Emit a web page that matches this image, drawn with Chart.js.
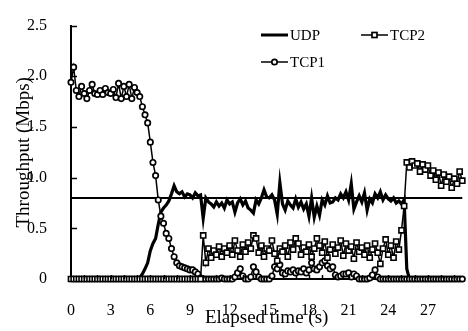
<!DOCTYPE html>
<html>
<head>
<meta charset="utf-8">
<script src="https://cdn.jsdelivr.net/npm/chart.js@4"></script>
<style>
    html, body { margin: 0; padding: 0; background: #fff; overflow: hidden; }
</style>
</head>
<body>
<canvas id="chart" width="468" height="331"></canvas>
<script>
// sample times (s)
const time = [
    0, 0.2, 0.4, 0.6, 0.8, 1, 1.2, 1.4, 1.6, 1.8,
    2, 2.2, 2.4, 2.6, 2.8, 3, 3.2, 3.4, 3.6, 3.8,
    4, 4.2, 4.4, 4.6, 4.8, 5, 5.2, 5.4, 5.6, 5.8,
    6, 6.2, 6.4, 6.6, 6.8, 7, 7.2, 7.4, 7.6, 7.8,
    8, 8.2, 8.4, 8.6, 8.8, 9, 9.2, 9.4, 9.6, 9.8,
    10, 10.2, 10.4, 10.6, 10.8, 11, 11.2, 11.4, 11.6, 11.8,
    12, 12.2, 12.4, 12.6, 12.8, 13, 13.2, 13.4, 13.6, 13.8,
    14, 14.2, 14.4, 14.6, 14.8, 15, 15.2, 15.4, 15.6, 15.8,
    16, 16.2, 16.4, 16.6, 16.8, 17, 17.2, 17.4, 17.6, 17.8,
    18, 18.2, 18.4, 18.6, 18.8, 19, 19.2, 19.4, 19.6, 19.8,
    20, 20.2, 20.4, 20.6, 20.8, 21, 21.2, 21.4, 21.6, 21.8,
    22, 22.2, 22.4, 22.6, 22.8, 23, 23.2, 23.4, 23.6, 23.8,
    24, 24.2, 24.4, 24.6, 24.8, 25, 25.2, 25.4, 25.6, 25.8,
    26, 26.2, 26.4, 26.6, 26.8, 27, 27.2, 27.4, 27.6, 27.8,
    28, 28.2, 28.4, 28.6, 28.8, 29, 29.2, 29.4, 29.6, 29.8
];

// throughput (Mbps)
const udp = [
    0, 0, 0, 0, 0, 0, 0, 0, 0, 0,
    0, 0, 0, 0, 0, 0, 0, 0, 0, 0,
    0, 0, 0, 0, 0, 0, 0.01, 0.05, 0.10, 0.16,
    0.28, 0.35, 0.40, 0.54, 0.66, 0.70, 0.73, 0.77, 0.84, 0.92,
    0.86, 0.84, 0.86, 0.81, 0.84, 0.83, 0.80, 0.85, 0.82, 0.83,
    0.60, 0.80, 0.76, 0.74, 0.71, 0.76, 0.72, 0.75, 0.70, 0.78,
    0.74, 0.76, 0.66, 0.75, 0.79, 0.73, 0.77, 0.70, 0.68, 0.65,
    0.78, 0.74, 0.80, 0.88, 0.81, 0.80, 0.83, 0.78, 0.64, 0.95,
    0.74, 0.68, 0.77, 0.73, 0.70, 0.79, 0.71, 0.76, 0.69, 0.74,
    0.62, 0.80, 0.61, 0.72, 0.63, 0.78, 0.73, 0.82, 0.75, 0.76,
    0.80, 0.78, 0.84, 0.80, 0.86, 0.78, 0.94, 0.69, 0.76, 0.82,
    0.76, 0.85, 0.68, 0.79, 0.75, 0.84, 0.80, 0.86, 0.78, 0.83,
    0.79, 0.77, 0.80, 0.75, 0.77, 0.74, 0.78, 0.10, 0, 0,
    0, 0, 0, 0, 0, 0, 0, 0, 0, 0,
    0, 0, 0, 0, 0, 0, 0, 0, 0, 0
];
const tcp1 = [
    1.94, 2.09, 1.86, 1.80, 1.90, 1.83, 1.78, 1.86, 1.92, 1.83,
    1.82, 1.86, 1.82, 1.88, 1.84, 1.83, 1.87, 1.79, 1.93, 1.78,
    1.90, 1.80, 1.92, 1.78, 1.89, 1.84, 1.80, 1.70, 1.62, 1.54,
    1.35, 1.15, 1.02, 0.78, 0.62, 0.55, 0.45, 0.40, 0.30, 0.22,
    0.16, 0.13, 0.12, 0.11, 0.10, 0.09, 0.09, 0.07, 0.05, 0.01,
    0, 0, 0, 0, 0, 0, 0, 0.01, 0, 0,
    0, 0, 0.02, 0.06, 0.10, 0.03, 0, 0, 0.02, 0.12,
    0.07, 0.02, 0, 0, 0, 0, 0.03, 0.12, 0.10, 0.14,
    0.06, 0.05, 0.08, 0.07, 0.09, 0.06, 0.08, 0.07, 0.10, 0.06,
    0.09, 0.16, 0.10, 0.09, 0.12, 0.16, 0.18, 0.13, 0.10, 0.12,
    0.04, 0.02, 0.03, 0.05, 0.05, 0.06, 0.02, 0.05, 0.03, 0,
    0, 0, 0, 0.01, 0.04, 0.09, 0.02, 0, 0, 0,
    0, 0, 0, 0, 0, 0, 0, 0, 0, 0,
    0, 0, 0, 0, 0, 0, 0, 0, 0, 0,
    0, 0, 0, 0, 0, 0, 0, 0, 0, 0
];
const tcp2 = [
    0, 0, 0, 0, 0, 0, 0, 0, 0, 0,
    0, 0, 0, 0, 0, 0, 0, 0, 0, 0,
    0, 0, 0, 0, 0, 0, 0, 0, 0, 0,
    0, 0, 0, 0, 0, 0, 0, 0, 0, 0,
    0, 0, 0, 0, 0, 0, 0, 0, 0, 0,
    0.43, 0.16, 0.30, 0.21, 0.28, 0.24, 0.32, 0.22, 0.30, 0.26,
    0.33, 0.24, 0.38, 0.28, 0.22, 0.34, 0.27, 0.36, 0.30, 0.43,
    0.40, 0.26, 0.33, 0.22, 0.30, 0.28, 0.38, 0.25, 0.18, 0.30,
    0.27, 0.33, 0.22, 0.36, 0.29, 0.40, 0.35, 0.24, 0.31, 0.27,
    0.34, 0.22, 0.30, 0.40, 0.33, 0.26, 0.37, 0.21, 0.29, 0.34,
    0.25, 0.31, 0.38, 0.23, 0.35, 0.28, 0.32, 0.20, 0.36, 0.27,
    0.31, 0.24, 0.33, 0.21, 0.29, 0.35, 0.26, 0.15, 0.30, 0.39,
    0.24, 0.33, 0.21, 0.37, 0.29, 0.48, 0.72, 1.15, 1.10, 1.16,
    1.12, 1.14, 1.06, 1.13, 1.08, 1.12, 1.02, 1.07, 0.98, 1.05,
    0.92, 1.03, 0.96, 1.01, 0.90, 0.99, 0.94, 1.06, 0.97, 1.00
];

// UDP sending rate line
const udpRate = 0.8;

const xTicks = [0, 3, 6, 9, 12, 15, 18, 21, 24, 27];
const yTicks = [0, 0.5, 1, 1.5, 2, 2.5];

const FONT = "'Liberation Serif', 'Times New Roman', serif";

// small inward tick marks on both axes
const innerTicks = {
    id: 'innerTicks',
    afterDatasetsDraw(chart) {
        const { ctx, chartArea, scales } = chart;
        ctx.save();
        ctx.strokeStyle = '#000';
        ctx.lineWidth = 1.5;
        ctx.beginPath();
        yTicks.slice(1).forEach(v => {
            const y = Math.round(scales.y.getPixelForValue(v)) + 0.5;
            ctx.moveTo(chartArea.left, y);
            ctx.lineTo(chartArea.left + 6, y);
        });
        for (let s = 1; s < 30; s++) {
            const x = Math.round(scales.x.getPixelForValue(s)) + 0.5;
            ctx.moveTo(x, chartArea.bottom);
            ctx.lineTo(x, chartArea.bottom - 4);
        }
        ctx.stroke();
        ctx.restore();
    }
};

// legend inside the plot, two columns like the original
const cornerLegend = {
    id: 'cornerLegend',
    afterDraw(chart) {
        const ctx = chart.ctx;
        const items = [
            { label: 'UDP', x: 261, y: 35, lw: 3, mark: null },
            { label: 'TCP2', x: 361, y: 35, lw: 1.5, mark: 'rect' },
            { label: 'TCP1', x: 261, y: 62, lw: 1.5, mark: 'circle' }
        ];
        ctx.save();
        ctx.font = '15px ' + FONT;
        ctx.textBaseline = 'middle';
        ctx.fillStyle = '#000';
        items.forEach(it => {
            ctx.strokeStyle = '#000';
            ctx.lineWidth = it.lw;
            ctx.beginPath();
            ctx.moveTo(it.x, it.y);
            ctx.lineTo(it.x + 27, it.y);
            ctx.stroke();
            const cx = it.x + 13.5;
            ctx.lineWidth = 1.7;
            ctx.fillStyle = '#fff';
            if (it.mark === 'circle') {
                ctx.beginPath();
                ctx.arc(cx, it.y, 2.7, 0, Math.PI * 2);
                ctx.fill();
                ctx.stroke();
            } else if (it.mark === 'rect') {
                ctx.fillRect(cx - 2.5, it.y - 2.5, 5, 5);
                ctx.strokeRect(cx - 2.5, it.y - 2.5, 5, 5);
            }
            ctx.fillStyle = '#000';
            ctx.fillText(it.label, it.x + 29, it.y + 1);
        });
        ctx.restore();
    }
};

const ctx = document.getElementById('chart').getContext('2d');
new Chart(ctx, {
    type: 'line',
    data: {
        labels: time,
        datasets: [
            {
                label: 'UDP',
                data: udp,
                borderColor: '#000',
                borderWidth: 3.2,
                pointRadius: 0,
                order: 3
            },
            {
                label: 'TCP1',
                data: tcp1,
                borderColor: '#000',
                borderWidth: 1.5,
                pointStyle: 'circle',
                pointRadius: 2.7,
                pointBorderWidth: 1.7,
                pointBackgroundColor: '#fff',
                pointBorderColor: '#000',
                clip: false,
                order: 2
            },
            {
                label: 'TCP2',
                data: tcp2,
                borderColor: '#000',
                borderWidth: 1.5,
                pointStyle: 'rect',
                pointRadius: 3.6,
                pointBorderWidth: 1.6,
                pointBackgroundColor: '#fff',
                pointBorderColor: '#000',
                clip: false,
                order: 1
            },
            {
                label: 'rate',
                data: [{ x: 0, y: udpRate }, { x: 30, y: udpRate }],
                borderColor: '#000',
                borderWidth: 2,
                pointRadius: 0,
                order: 4
            }
        ]
    },
    options: {
        responsive: false,
        animation: false,
        events: [],
        layout: { padding: { top: 14, right: 0, left: 0, bottom: 0 } },
        plugins: {
            legend: { display: false },
            tooltip: { enabled: false }
        },
        elements: { line: { tension: 0 } },
        scales: {
            x: {
                type: 'linear',
                min: 0,
                max: 29.6,
                afterBuildTicks: s => { s.ticks = xTicks.map(v => ({ value: v })); },
                afterFit: s => { s.height = 52; },
                grid: { display: false },
                border: { display: true, color: '#000', width: 2 },
                ticks: {
                    color: '#000',
                    font: { family: FONT, size: 16 },
                    padding: 14,
                    maxRotation: 0,
                    autoSkip: false
                },
                title: {
                    display: true,
                    text: 'Elapsed time (s)',
                    color: '#000',
                    font: { family: FONT, size: 19 },
                    padding: { top: 0, bottom: 2 }
                }
            },
            y: {
                min: 0,
                max: 2.5,
                afterBuildTicks: s => { s.ticks = yTicks.map(v => ({ value: v })); },
                afterFit: s => { s.width = 71; },
                grid: { display: false },
                border: { display: true, color: '#000', width: 2 },
                ticks: {
                    color: '#000',
                    font: { family: FONT, size: 16 },
                    padding: 16
                },
                title: {
                    display: true,
                    text: 'Throughput (Mbps)',
                    color: '#000',
                    font: { family: FONT, size: 19 },
                    padding: { top: 13, bottom: 0 }
                }
            }
        }
    },
    plugins: [innerTicks, cornerLegend]
});
</script>
</body>
</html>
